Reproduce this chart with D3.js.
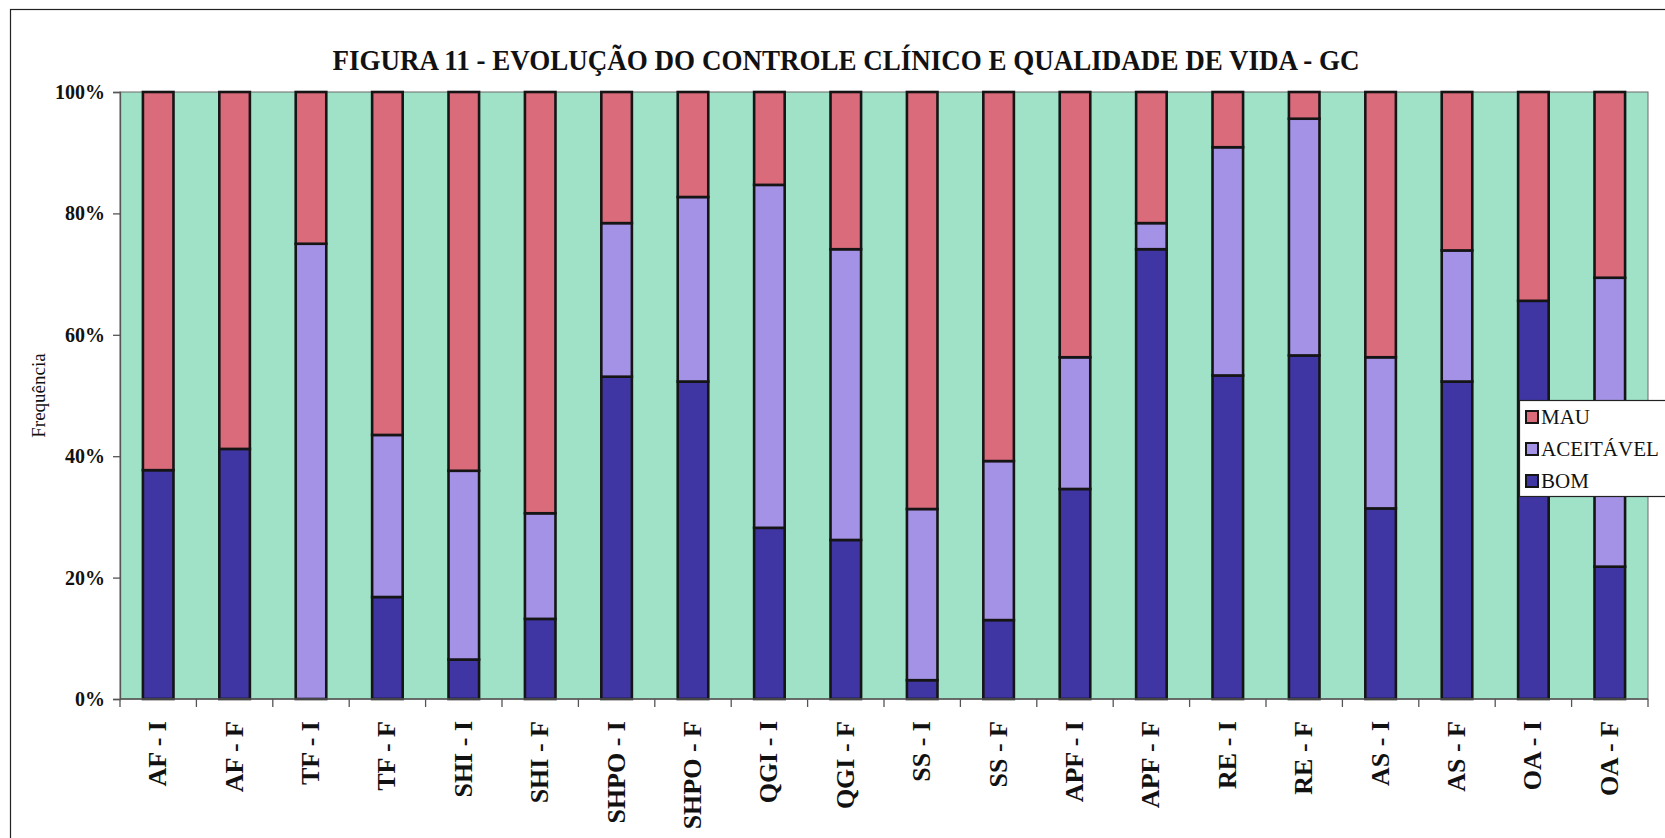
<!DOCTYPE html>
<html lang="pt">
<head>
<meta charset="utf-8">
<script src="https://cdn.jsdelivr.net/npm/d3@7"></script>
<style>
  html, body { margin: 0; padding: 0; background: #ffffff; }
  svg { display: block; }
  text { font-family: "Liberation Serif", "Times New Roman", serif; fill: #111; }
</style>
</head>
<body>
<svg id="chart" width="1665" height="838"></svg>
<script>
// Categorias (indicador - Inicial / Final)
const categories = ["AF - I", "AF - F", "TF - I", "TF - F", "SHI - I", "SHI - F",
  "SHPO - I", "SHPO - F", "QGI - I", "QGI - F", "SS - I", "SS - F",
  "APF - I", "APF - F", "RE - I", "RE - F", "AS - I", "AS - F", "OA - I", "OA - F"];

// Percentagens por classe (empilhadas de baixo para cima: BOM, ACEITÁVEL, MAU)
const bom       = [37.7, 41.2,  0.0, 16.8,  6.5, 13.2, 53.1, 52.3, 28.2, 26.2,  3.1, 13.0, 34.6, 74.1, 53.3, 56.6, 31.4, 52.3, 65.6, 21.8];
const aceitavel = [ 0.0,  0.0, 75.0, 26.7, 31.1, 17.4, 25.3, 30.4, 56.5, 47.9, 28.2, 26.2, 21.7,  4.3, 37.6, 39.0, 24.9, 21.6,  0.0, 47.6];
const mau       = [62.3, 58.8, 25.0, 56.5, 62.4, 69.4, 21.6, 17.3, 15.3, 25.9, 68.7, 60.8, 43.7, 21.6,  9.1,  4.4, 43.7, 26.1, 34.4, 30.6];

const seriesNames = ["BOM", "ACEITÁVEL", "MAU"];
const legendOrder = ["MAU", "ACEITÁVEL", "BOM"];
const yTicks = [0, 20, 40, 60, 80, 100];

const title = "FIGURA 11 - EVOLUÇÃO DO CONTROLE CLÍNICO E QUALIDADE DE VIDA - GC";
const yTitle = "Frequência";

const serif = "'Liberation Serif', 'Times New Roman', serif";
const colors = { "BOM": "#3f36a4", "ACEITÁVEL": "#a392e5", "MAU": "#d96b7b" };
const plotFill = "#9fe2c8";

const rows = categories.map((c, i) => ({ cat: c, "BOM": bom[i], "ACEITÁVEL": aceitavel[i], "MAU": mau[i] }));

const svg = d3.select("#chart");
const W = 1665, H = 838;
const plot = { left: 120, right: 1648, top: 92, bottom: 699 };

// outer frame
svg.append("rect").attr("x", 10.5).attr("y", 9.5).attr("width", W + 20).attr("height", H + 20)
  .attr("fill", "none").attr("stroke", "#222").attr("stroke-width", 1.2);

const xBand = d3.scaleBand().domain(categories).range([plot.left, plot.right]);
const y = d3.scaleLinear().domain([0, 100]).range([plot.bottom, plot.top]);

// plot background
svg.append("rect").attr("x", plot.left).attr("y", plot.top)
  .attr("width", plot.right - plot.left).attr("height", plot.bottom - plot.top)
  .attr("fill", plotFill).attr("stroke", "#6b6b6b").attr("stroke-width", 1);

// stacked bars
const stack = d3.stack().keys(seriesNames)(rows);
const bw = xBand.bandwidth() / 2.5;
svg.append("g").selectAll("g").data(stack).join("g")
  .attr("fill", d => colors[d.key])
  .selectAll("rect").data(d => d.filter(s => s[1] - s[0] > 0)).join("rect")
  .attr("x", d => xBand(d.data.cat) + (xBand.bandwidth() - bw) / 2)
  .attr("width", bw)
  .attr("y", d => y(d[1]))
  .attr("height", d => y(d[0]) - y(d[1]))
  .attr("stroke", "#151515").attr("stroke-width", 2.6);

// y axis
const yAxis = d3.axisLeft(y).tickValues(yTicks).tickFormat(d => d + "%").tickSize(7).tickPadding(8);
const gy = svg.append("g").attr("transform", `translate(${plot.left},0)`).call(yAxis);
gy.select(".domain").attr("stroke", "#555").attr("stroke-width", 1.3);
gy.selectAll(".tick line").attr("stroke", "#555").attr("stroke-width", 1.3);
gy.selectAll(".tick text").style("font-family", serif)
  .style("font-weight", "bold").style("font-size", "20px").attr("fill", "#111");

// x axis: labels centred in each category, ticks on category boundaries
const gx = svg.append("g").attr("transform", `translate(0,${plot.bottom})`);
gx.append("line").attr("x1", plot.left).attr("x2", plot.right).attr("stroke", "#555").attr("stroke-width", 1.3);
const bounds = categories.map(c => xBand(c)).concat([plot.right]);
gx.selectAll("line.tk").data(bounds).join("line").attr("class", "tk")
  .attr("x1", d => d).attr("x2", d => d).attr("y1", 0).attr("y2", 8)
  .attr("stroke", "#555").attr("stroke-width", 1.3);
gx.selectAll("text").data(categories).join("text")
  .attr("transform", d => `translate(${xBand(d) + xBand.bandwidth() / 2 + 8},${22}) rotate(-90)`)
  .attr("text-anchor", "end")
  .style("font-family", serif).style("font-weight", "bold").style("font-size", "26px")
  .text(d => d);

// y title
svg.append("text").attr("transform", `translate(45,${(plot.top + plot.bottom) / 2}) rotate(-90)`)
  .attr("text-anchor", "middle").style("font-family", serif).style("font-size", "19px").text(yTitle);

// title
svg.append("text").attr("x", 846).attr("y", 70).attr("text-anchor", "middle")
  .style("font-family", serif).style("font-weight", "bold").style("font-size", "30px")
  .attr("textLength", 1027).attr("lengthAdjust", "spacingAndGlyphs")
  .text(title);

// legend
const lg = svg.append("g").attr("transform", "translate(1519,400)");
lg.append("rect").attr("x", 0.5).attr("y", 0.5).attr("width", 160).attr("height", 96)
  .attr("fill", "#ffffff").attr("stroke", "#222").attr("stroke-width", 1.2);
const li = lg.selectAll("g").data(legendOrder).join("g")
  .attr("transform", (d, i) => `translate(7,${17 + i * 32})`);
li.append("rect").attr("x", 0).attr("y", -6).attr("width", 12).attr("height", 12)
  .attr("fill", d => colors[d]).attr("stroke", "#151515").attr("stroke-width", 2);
li.append("text").attr("x", 15).attr("y", 7)
  .style("font-family", serif).style("font-size", "21px").text(d => d);
</script>
</body>
</html>
